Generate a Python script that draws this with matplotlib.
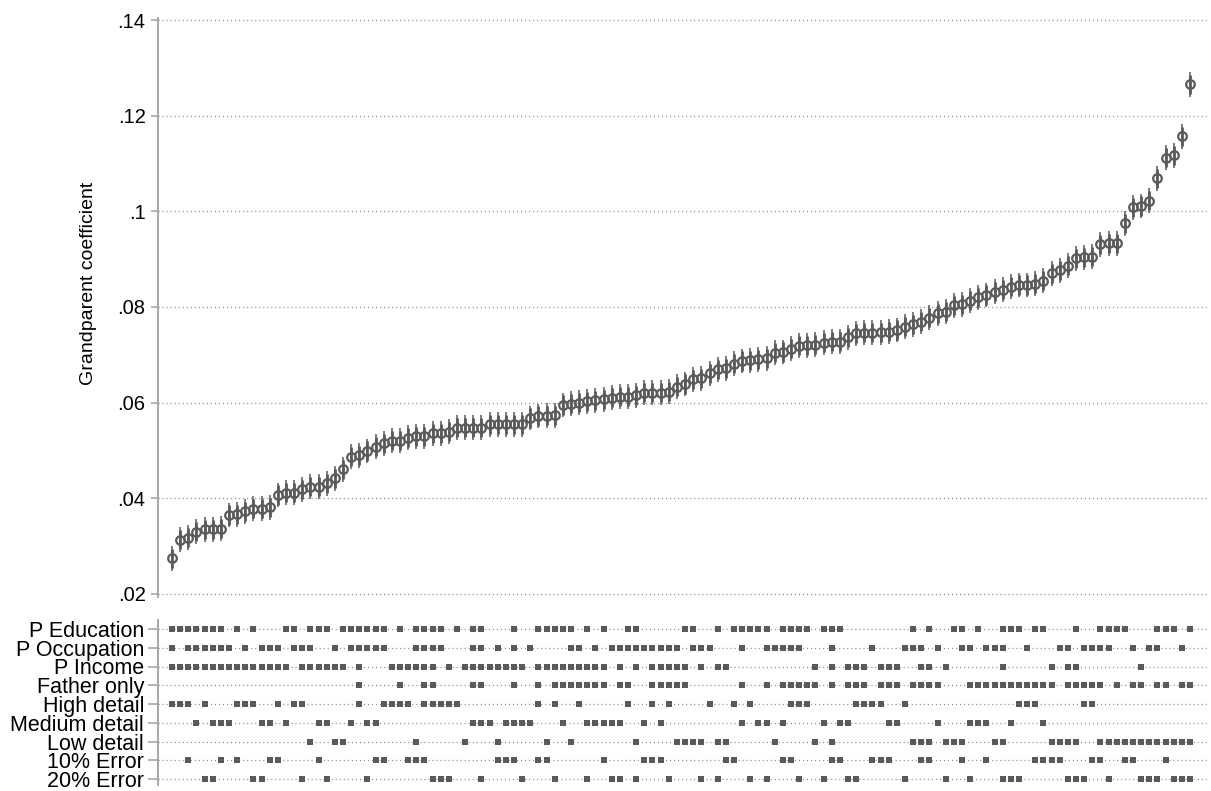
import numpy as np
import matplotlib
matplotlib.use("Agg")
import matplotlib.pyplot as plt

plt.rcParams['font.family'] = ['Liberation Sans', 'DejaVu Sans']
plt.rcParams['lines.scale_dashes'] = False

# ---- data -------------------------------------------------------------
coef = [0.0275, 0.0313, 0.0318, 0.0330, 0.0335, 0.0335, 0.0336, 0.0365, 0.0367, 0.0373,
        0.0378, 0.0378, 0.0381, 0.0407, 0.0412, 0.0412, 0.0419, 0.0424, 0.0424, 0.0431,
        0.0442, 0.0461, 0.0487, 0.0490, 0.0499, 0.0508, 0.0515, 0.0520, 0.0520, 0.0527,
        0.0530, 0.0530, 0.0536, 0.0536, 0.0539, 0.0548, 0.0548, 0.0548, 0.0548, 0.0555,
        0.0555, 0.0555, 0.0555, 0.0555, 0.0568, 0.0572, 0.0573, 0.0574, 0.0595, 0.0598,
        0.0600, 0.0603, 0.0605, 0.0607, 0.0610, 0.0612, 0.0612, 0.0615, 0.0621, 0.0621,
        0.0621, 0.0623, 0.0633, 0.0639, 0.0649, 0.0651, 0.0661, 0.0670, 0.0672, 0.0681,
        0.0687, 0.0689, 0.0691, 0.0693, 0.0704, 0.0706, 0.0713, 0.0719, 0.0720, 0.0721,
        0.0725, 0.0727, 0.0727, 0.0737, 0.0745, 0.0746, 0.0746, 0.0747, 0.0748, 0.0752,
        0.0759, 0.0764, 0.0769, 0.0778, 0.0787, 0.0790, 0.0804, 0.0806, 0.0813, 0.0820,
        0.0825, 0.0832, 0.0836, 0.0842, 0.0846, 0.0846, 0.0849, 0.0855, 0.0870, 0.0877,
        0.0886, 0.0902, 0.0904, 0.0905, 0.0931, 0.0933, 0.0933, 0.0975, 0.1008, 0.1011,
        0.1022, 0.1069, 0.1112, 0.1117, 0.1157, 0.1266]
ci90_half = 0.0020
ci95_half = 0.0026

yticks = [0.02, 0.04, 0.06, 0.08, 0.10, 0.12, 0.14]
ytick_labels = [".02", ".04", ".06", ".08", ".1", ".12", ".14"]

row_labels = ["P Education", "P Occupation", "P Income", "Father only",
              "High detail", "Medium detail", "Low detail", "10% Error", "20% Error"]

p_education = [0, 1, 2, 3, 4, 5, 6, 8, 10, 14, 15, 17, 18, 19, 21, 22, 23, 24, 25, 26,
               28, 30, 31, 32, 33, 35, 37, 38, 42, 45, 46, 47, 48, 49, 51, 53, 56, 57,
               63, 64, 67, 69, 70, 71, 72, 73, 75, 76, 77, 78, 80, 81, 82, 91, 93, 96,
               97, 99, 102, 103, 104, 106, 107, 111, 114, 115, 116, 117, 121, 122, 123, 125]
p_occupation = [0, 2, 3, 4, 5, 6, 7, 9, 11, 12, 13, 15, 16, 17, 20, 22, 23, 24, 25, 26,
                30, 31, 32, 33, 37, 38, 40, 42, 44, 49, 50, 52, 54, 55, 56, 57, 58, 59,
                60, 61, 62, 64, 65, 66, 70, 73, 74, 75, 76, 77, 81, 86, 90, 91, 92, 94,
                97, 98, 100, 101, 102, 105, 109, 110, 112, 113, 114, 115, 118, 120, 121, 124]
p_income = [0, 1, 2, 3, 4, 5, 6, 7, 8, 9, 10, 11, 12, 13, 14, 16, 17, 18, 19, 20, 21,
            23, 27, 28, 29, 30, 31, 32, 34, 36, 37, 38, 39, 40, 41, 42, 43, 45, 46, 47,
            48, 49, 50, 51, 52, 53, 55, 57, 59, 60, 61, 62, 63, 65, 67, 68, 79, 81, 83,
            84, 85, 87, 88, 89, 92, 93, 95, 102, 108, 110, 111, 119]
father_only = [23, 28, 31, 32, 37, 38, 42, 45, 47, 48, 49, 50, 51, 52, 53, 55, 56, 59,
               60, 61, 62, 63, 70, 73, 75, 76, 77, 78, 79, 81, 83, 84, 85, 87, 88, 89,
               91, 92, 93, 94, 98, 99, 100, 101, 102, 103, 104, 105, 106, 107, 108, 110,
               111, 112, 113, 114, 116, 118, 119, 121, 122, 124, 125]
high_detail = [0, 1, 2, 4, 8, 9, 10, 13, 15, 16, 23, 26, 27, 28, 29, 31, 32, 33, 34, 35,
               45, 47, 50, 56, 59, 61, 66, 69, 71, 76, 77, 78, 84, 85, 86, 87, 90, 104,
               105, 106, 112, 113]
medium_detail = [3, 5, 6, 7, 11, 12, 14, 18, 19, 22, 24, 25, 37, 38, 39, 41, 42, 43, 44,
                 48, 51, 52, 53, 54, 55, 58, 60, 70, 72, 73, 75, 80, 82, 83, 88, 89, 94,
                 98, 99, 100, 103, 107]
low_detail = [17, 20, 21, 30, 36, 40, 46, 49, 57, 62, 63, 64, 65, 67, 68, 74, 79, 81, 91,
              92, 93, 95, 96, 97, 101, 102, 108, 109, 110, 111, 114, 115, 116, 117, 118,
              119, 120, 121, 122, 123, 124, 125]
error_10 = [2, 6, 8, 12, 13, 18, 25, 26, 29, 30, 31, 40, 41, 42, 45, 46, 53, 58, 59, 60,
            68, 69, 75, 76, 81, 82, 86, 87, 88, 92, 93, 97, 100, 106, 107, 108, 109, 113,
            114, 117, 118, 122]
error_20 = [4, 5, 10, 11, 16, 19, 24, 32, 33, 34, 38, 43, 47, 51, 54, 55, 57, 61, 65, 67,
            71, 73, 77, 80, 83, 84, 90, 95, 98, 102, 103, 104, 110, 111, 112, 115, 119,
            120, 121, 123, 124, 125]

rows = [p_education, p_occupation, p_income, father_only, high_detail,
        medium_detail, low_detail, error_10, error_20]

# ---- style ------------------------------------------------------------
mark_col = '#5a5a5a'
grid_col = '#8c8c8c'
axis_col = '#a0a0a0'
dot_style = (0, (0.8, 2.1))

W, H = 1211, 791
fig = plt.figure(figsize=(W / 100, H / 100), dpi=100)
L, R = 158, 1207
ax1 = fig.add_axes([L / W, 1 - 597 / H, (R - L) / W, (597 - 18) / H])
ax2 = fig.add_axes([L / W, 1 - 785 / H, (R - L) / W, (785 - 620) / H])

n = len(coef)
x = np.arange(n)
c = np.array(coef)
sp = (1190 - 172) / (n - 1)
xlo = -(172 - L) / sp
xhi = (n - 1) + (R - 1190) / sp

# top panel
ax1.vlines(x, c - ci95_half, c + ci95_half, color=mark_col, lw=1.1, zorder=3)
ax1.vlines(x, c - ci90_half, c + ci90_half, color=mark_col, lw=2.0, zorder=3)
ax1.plot(x, c, 'o', ms=6.2, mfc='none', mec=mark_col, mew=1.6, zorder=4)
ax1.set_xlim(xlo, xhi)
ax1.set_ylim(0.14 - (597 - 20) / 4783, 0.14 + 2 / 4783)
ax1.set_yticks(yticks)
ax1.set_yticklabels(ytick_labels)
ax1.set_xticks([])
for v in yticks:
    ax1.axhline(v, color=grid_col, lw=0.9, ls=dot_style, zorder=1)
for s in ['top', 'right', 'bottom']:
    ax1.spines[s].set_visible(False)
ax1.spines['left'].set_color(axis_col)
ax1.spines['left'].set_linewidth(1.3)
ax1.tick_params(axis='y', length=5, width=1.1, color=axis_col, labelsize=14.5, pad=4)
ax1.set_ylabel("Grandparent coefficient", fontsize=14)
ax1.yaxis.set_label_coords(-(158 - 97) / (R - L), (597 - 283) / (597 - 18))

# bottom panel
for r, cols in enumerate(rows):
    ax2.axhline(r, color=grid_col, lw=0.9, ls=dot_style, zorder=1)
    ax2.plot(cols, [r] * len(cols), 's', ms=5.0, color=mark_col, mew=0, zorder=3)
ax2.set_xlim(xlo, xhi)
ax2.set_ylim(8 + 6 / 18.75, -9 / 18.75)
ax2.set_yticks(range(len(row_labels)))
ax2.set_yticklabels(row_labels)
ax2.set_xticks([])
for s in ['top', 'right', 'bottom']:
    ax2.spines[s].set_visible(False)
ax2.spines['left'].set_color(axis_col)
ax2.spines['left'].set_linewidth(1.3)
ax2.tick_params(axis='y', length=7, width=1.1, color=axis_col, labelsize=15.5, pad=3)

fig.savefig("out.png", dpi=100)
